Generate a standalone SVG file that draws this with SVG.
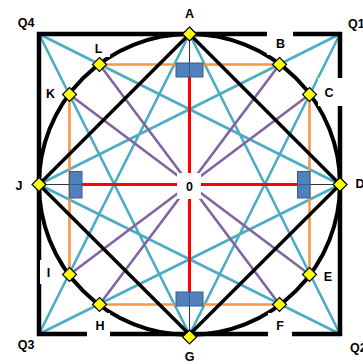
<svg xmlns="http://www.w3.org/2000/svg" xmlns:xlink="http://www.w3.org/1999/xlink" width="363" height="364" viewBox="0 0 363 364">
<style>
.cy{stroke:#4BACC6;stroke-width:2.6;fill:none}
.pu{stroke:#8064A2;stroke-width:2.6;fill:none}
.or{stroke:#F79646;stroke-width:2.6;fill:none}
.bk{stroke:#000;fill:none;stroke-linejoin:miter}
.rd{stroke:#FF0000;stroke-width:3;fill:none}
.th{stroke:#333;stroke-width:1;fill:none}
.bx{fill:#4F81BD;stroke:#385D8A;stroke-width:1}
.wb{fill:#fff}
.dm{fill:#FFFF00;stroke:#000;stroke-width:1.2}
text{font-family:"Liberation Sans",Arial,sans-serif;font-weight:bold;font-size:12.5px;fill:#000}
.c{text-anchor:middle}
</style>
<defs>
<path id="dia" class="dm" d="M0,-7 L7,0 L0,7 L-7,0Z"/>
</defs>
<g id="connectors">
<path class="cy" d="M39,34 L340,184.5 M39,34 L189.5,334.5 M340,34 L39,184.5 M340,34 L189.5,334.5 M39,334 L189.5,34 M39,334 L340,184.5 M340,334 L189.5,34 M340,334 L39,184.5"/>
<path class="pu" d="M99.5,64.5 L279.5,304.5 M69.5,94.5 L309.5,274.5 M279.5,64.5 L99.5,304.5 M309.5,94.5 L69.5,274.5"/>
<path class="or" d="M99.5,64.5 H279.5 M309.5,94.5 V274.5 M279.5,304.5 H99.5 M69.5,274.5 V94.5"/>
<path class="bk" stroke-width="3.5" d="M189.5,34 L340,184.5 L189.5,334.5 L39,184.5Z"/>
<circle class="bk" stroke-width="4" cx="189.5" cy="184.5" r="150.5"/>
<path class="bk" stroke-width="4.5" d="M267,34 H39 V334 H87 M110,334 H268 M292,334 H340 V106 M340,78 V34 H293"/>
<path class="rd" d="M189.5,77 V292 M82,184.5 H298"/>
<path class="th" d="M189.5,34 V63 M189.5,335 V306 M39,184.5 H69 M340,184.5 H310"/>
<rect class="bx" x="176" y="63" width="13.5" height="14"/>
<rect class="bx" x="189.5" y="63" width="13.5" height="14"/>
<rect class="bx" x="176" y="292" width="13.5" height="14"/>
<rect class="bx" x="189.5" y="292" width="13.5" height="14"/>
<rect class="bx" x="69.5" y="171.5" width="12.5" height="13"/>
<rect class="bx" x="69.5" y="184.5" width="12.5" height="13.5"/>
<rect class="bx" x="297.5" y="171.5" width="12.5" height="13"/>
<rect class="bx" x="297.5" y="184.5" width="12.5" height="13.5"/>
</g>
<g id="Q4"><text class="c" x="26" y="27">Q4</text></g>
<g id="Q1"><text x="348" y="28">Q1</text></g>
<g id="Q3"><text class="c" x="26" y="349">Q3</text></g>
<g id="Q2"><text x="350" y="352">Q2</text></g>
<g id="node-0"><rect class="wb" x="177" y="173" width="24" height="26"/><text class="c" x="189.5" y="191">0</text></g>
<g id="A"><use xlink:href="#dia" x="189.5" y="34"/><text class="c" x="189.5" y="18">A</text></g>
<g id="B"><rect class="wb" x="267" y="31" width="26" height="24"/><use xlink:href="#dia" x="279.5" y="64.5"/><text class="c" x="280.5" y="48">B</text></g>
<g id="C"><rect class="wb" x="318" y="78" width="26" height="28"/><use xlink:href="#dia" x="309.5" y="94.5"/><text class="c" x="329" y="97">C</text></g>
<g id="D"><use xlink:href="#dia" x="340" y="184.5"/><text class="c" x="360" y="188">D</text></g>
<g id="E"><use xlink:href="#dia" x="309.5" y="274.5"/><text class="c" x="328" y="281">E</text></g>
<g id="F"><rect class="wb" x="268" y="313" width="24" height="25"/><use xlink:href="#dia" x="279.5" y="304.5"/><text class="c" x="280" y="330">F</text></g>
<g id="G"><use xlink:href="#dia" x="189.5" y="337"/><text class="c" x="189.5" y="361">G</text></g>
<g id="H"><rect class="wb" x="87" y="313" width="23" height="25"/><use xlink:href="#dia" x="99.5" y="304.5"/><text class="c" x="100" y="330">H</text></g>
<g id="I"><rect class="wb" x="40" y="260" width="12" height="24"/><use xlink:href="#dia" x="69.5" y="274.5"/><text class="c" x="48.5" y="277">I</text></g>
<g id="J"><use xlink:href="#dia" x="39" y="184.5"/><text class="c" x="19" y="190">J</text></g>
<g id="K"><use xlink:href="#dia" x="69.5" y="94.5"/><text class="c" x="50.5" y="98">K</text></g>
<g id="L"><rect class="wb" x="88" y="37" width="22" height="20"/><use xlink:href="#dia" x="99.5" y="64.5"/><text class="c" x="98.5" y="53">L</text></g>
</svg>
